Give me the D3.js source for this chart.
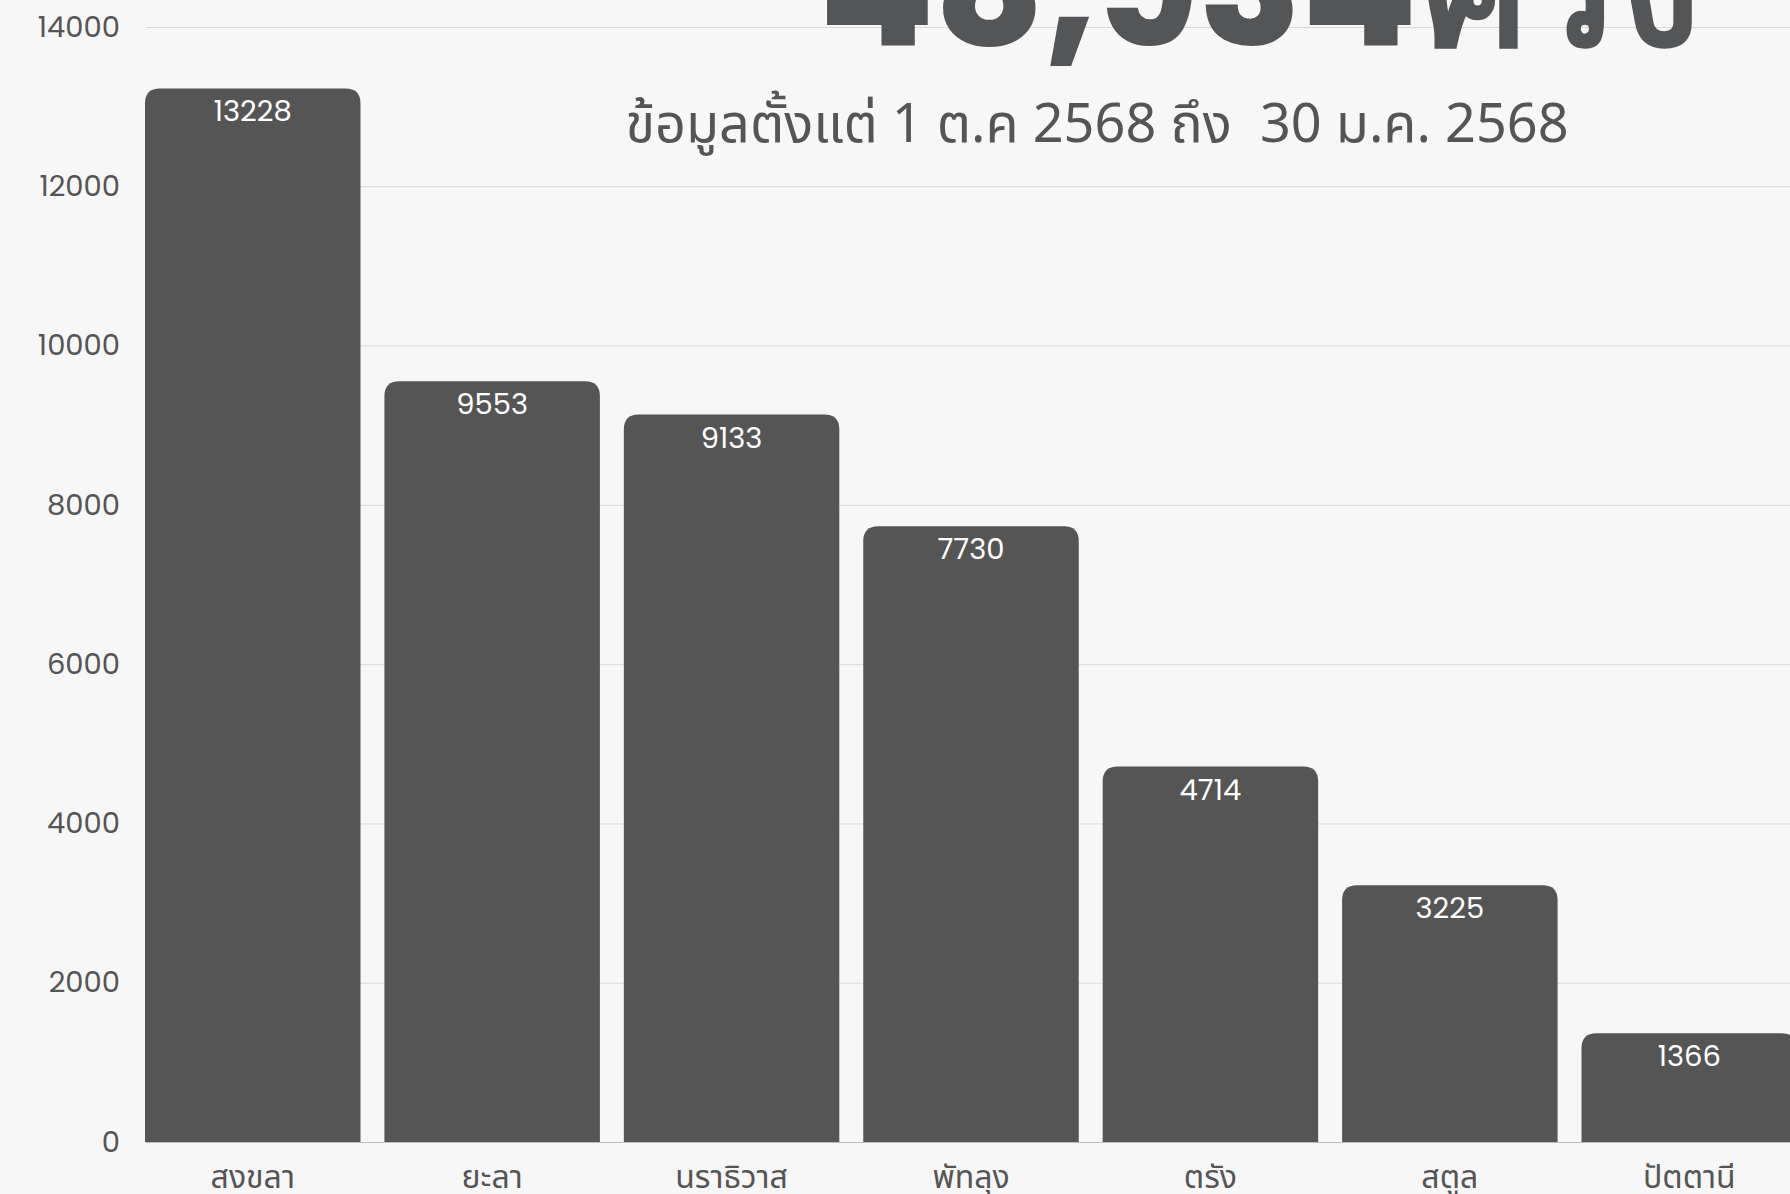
<!DOCTYPE html>
<html>
<head>
<meta charset="utf-8">
<script src="https://cdn.jsdelivr.net/npm/d3@7"></script>
<style>
  body { margin: 0; background: #f7f7f7; }
  svg { display: block; }
</style>
</head>
<body>
<div id="chart"></div>
<script>
var provinces = ["สงขลา", "ยะลา", "นราธิวาส", "พัทลุง", "ตรัง", "สตูล", "ปัตตานี"];
var counts = [13228, 9553, 9133, 7730, 4714, 3225, 1366];
var yTicks = [0, 2000, 4000, 6000, 8000, 10000, 12000, 14000];
var titleText = "48,934ครั้ง";
var subtitleText = "ข้อมูลตั้งแต่ 1 ต.ค 2568 ถึง  30 ม.ค. 2568";

var canvasWidth = 1790;
var canvasHeight = 1194;
var numFont = "Poppins, Inter, 'Noto Sans', sans-serif";
var thaiFont = "'Noto Sans Thai', 'Noto Sans', sans-serif";
var ink = "#555555";

var data = [];
for (var i = 0; i < provinces.length; i++) {
    data.push({name: provinces[i], value: counts[i]});
}

var svg = d3.select("#chart").append("svg")
    .attr("width", canvasWidth)
    .attr("height", canvasHeight)
    .style("background", "#f7f7f7");

var x = d3.scaleBand()
    .domain(provinces)
    .range([145, 1797])
    .paddingInner(0.1)
    .paddingOuter(0);

var y = d3.scaleLinear()
    .domain([0, 14000])
    .range([1142, 27]);

// gridlines + y labels (no thousands separator)
var yAxis = svg.append("g")
    .attr("transform", "translate(146,0)")
    .call(d3.axisLeft(y).tickValues(yTicks).tickFormat(d3.format("d"))
        .tickSize(-(canvasWidth - 146)).tickPadding(26));
yAxis.select(".domain").remove();
yAxis.selectAll(".tick line").attr("stroke", "#d9d9d9").attr("stroke-width", 1);
yAxis.selectAll(".tick text")
    .attr("fill", ink)
    .style("font-family", numFont)
    .style("font-size", "29px");

// bars, rounded top only
function barPath(d) {
    var x0 = x(d.name), w = x.bandwidth();
    var top = y(d.value), base = y(0);
    var r = 15;
    return "M" + x0 + "," + base +
        "V" + (top + r) +
        "Q" + x0 + "," + top + " " + (x0 + r) + "," + top +
        "H" + (x0 + w - r) +
        "Q" + (x0 + w) + "," + top + " " + (x0 + w) + "," + (top + r) +
        "V" + base + "Z";
}

svg.append("g")
    .selectAll("path")
    .data(data)
    .enter()
    .append("path")
    .attr("d", barPath)
    .attr("fill", ink);

// baseline
svg.append("line")
    .attr("x1", 146).attr("x2", canvasWidth)
    .attr("y1", y(0) + 0.5).attr("y2", y(0) + 0.5)
    .attr("stroke", "#bdbdbd").attr("stroke-width", 1);

// value labels
svg.append("g")
    .selectAll("text")
    .data(data)
    .enter()
    .append("text")
    .attr("x", function (d) { return x(d.name) + x.bandwidth() / 2; })
    .attr("y", function (d) { return y(d.value) + 33; })
    .attr("text-anchor", "middle")
    .attr("fill", "#ffffff")
    .style("font-family", numFont)
    .style("font-size", "29px")
    .text(function (d) { return d.value; });

// x labels
var xAxis = svg.append("g")
    .attr("transform", "translate(0," + y(0) + ")")
    .call(d3.axisBottom(x).tickSize(0).tickPadding(0));
xAxis.select(".domain").remove();
xAxis.selectAll(".tick text")
    .attr("dy", null)
    .attr("y", 46)
    .attr("fill", ink)
    .style("font-family", thaiFont)
    .style("font-size", "32px");

// title + subtitle
svg.append("text")
    .attr("x", 1260)
    .attr("y", 45)
    .attr("text-anchor", "middle")
    .attr("fill", "#545557")
    .style("font-family", numFont)
    .style("font-weight", 800)
    .style("font-size", "168px")
    .text(titleText);

svg.append("text")
    .attr("x", 1097)
    .attr("y", 142)
    .attr("text-anchor", "middle")
    .attr("fill", ink)
    .style("white-space", "pre")
    .style("font-family", thaiFont)
    .style("font-size", "54px")
    .text(subtitleText);
</script>
</body>
</html>
